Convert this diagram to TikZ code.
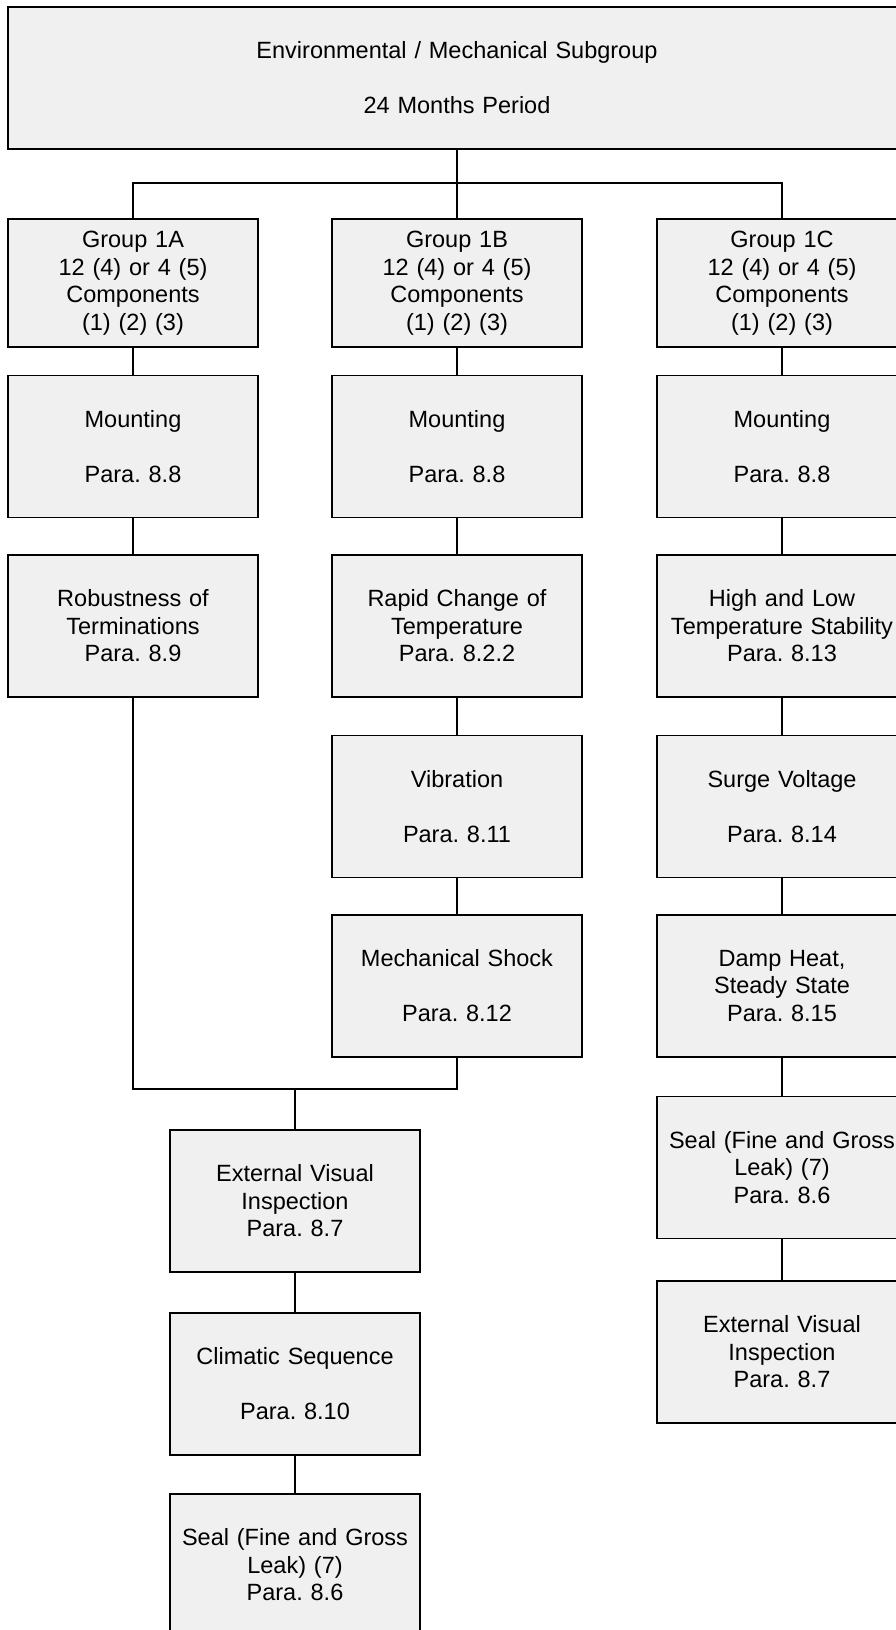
\documentclass[tikz,border=0pt]{standalone}
\usepackage{fontspec}
\setmainfont{Liberation Sans}
\frenchspacing
\definecolor{boxfill}{HTML}{F0F0F0}
\begin{document}
\begin{tikzpicture}[x=1pt,y=-1pt,
  box/.style={draw=black,line width=1.4pt,fill=boxfill,rectangle,minimum width=250pt,
    minimum height=142pt,inner sep=0pt,align=center,text width=250pt,
    font=\fontsize{23.5}{27.5}\selectfont},
  grpbox/.style={box,minimum height=128pt},
  topbox/.style={box,line width=2pt,minimum width=898pt,text width=898pt},
  conn/.style={draw=black,line width=1.3pt}]
\useasboundingbox (0,0) rectangle (896,1630);
\clip (0,0) rectangle (896,1630);
\fill[white] (0,0) rectangle (896,1630);
% top
\node[topbox] (top) at (457,78) {Environmental / Mechanical Subgroup\\[27.5pt]24 Months Period};
% column 1A
\node[grpbox] (g1a) at (133,283) {Group 1A\\12 (4) or 4 (5)\\Components\\(1) (2) (3)};
\node[box] (m1a) at (133,446.5) {Mounting\\[27.5pt]Para. 8.8};
\node[box] (r1a) at (133,626) {Robustness of\\Terminations\\Para. 8.9};
% column 1B
\node[grpbox] (g1b) at (457,283) {Group 1B\\12 (4) or 4 (5)\\Components\\(1) (2) (3)};
\node[box] (m1b) at (457,446.5) {Mounting\\[27.5pt]Para. 8.8};
\node[box] (r1b) at (457,626) {Rapid Change of\\Temperature\\Para. 8.2.2};
\node[box] (v1b) at (457,806.5) {Vibration\\[27.5pt]Para. 8.11};
\node[box] (s1b) at (457,986) {Mechanical Shock\\[27.5pt]Para. 8.12};
% column 1C
\node[grpbox] (g1c) at (782,283) {Group 1C\\12 (4) or 4 (5)\\Components\\(1) (2) (3)};
\node[box] (m1c) at (782,446.5) {Mounting\\[27.5pt]Para. 8.8};
\node[box] (r1c) at (782,626) {High and Low\\Temperature Stability\\Para. 8.13};
\node[box] (v1c) at (782,806.5) {Surge Voltage\\[27.5pt]Para. 8.14};
\node[box] (d1c) at (782,986) {Damp Heat,\\Steady State\\Para. 8.15};
\node[box] (sl1c) at (782,1167.5) {Seal (Fine and Gross\\Leak) (7)\\Para. 8.6};
\node[box] (ev1c) at (782,1352) {External Visual\\Inspection\\Para. 8.7};
% bottom column
\node[box] (ev) at (295,1201) {External Visual\\Inspection\\Para. 8.7};
\node[box] (cl) at (295,1384) {Climatic Sequence\\[27.5pt]Para. 8.10};
\node[box] (sl) at (295,1565) {Seal (Fine and Gross\\Leak) (7)\\Para. 8.6};
% connectors
\coordinate (jt) at (457,183);
\coordinate (jb) at (295,1089);
\draw[conn] (top.south) -- (jt);
\draw[conn] (g1a.north) |- (jt) -| (g1c.north);
\draw[conn] (jt) -- (g1b.north);
\draw[conn] (g1a.south) -- (m1a.north);
\draw[conn] (m1a.south) -- (r1a.north);
\draw[conn] (g1b.south) -- (m1b.north);
\draw[conn] (m1b.south) -- (r1b.north);
\draw[conn] (r1b.south) -- (v1b.north);
\draw[conn] (v1b.south) -- (s1b.north);
\draw[conn] (g1c.south) -- (m1c.north);
\draw[conn] (m1c.south) -- (r1c.north);
\draw[conn] (r1c.south) -- (v1c.north);
\draw[conn] (v1c.south) -- (d1c.north);
\draw[conn] (d1c.south) -- (sl1c.north);
\draw[conn] (sl1c.south) -- (ev1c.north);
\draw[conn] (r1a.south) |- (jb) -| (s1b.south);
\draw[conn] (jb) -- (ev.north);
\draw[conn] (ev.south) -- (cl.north);
\draw[conn] (cl.south) -- (sl.north);
\end{tikzpicture}
\end{document}
